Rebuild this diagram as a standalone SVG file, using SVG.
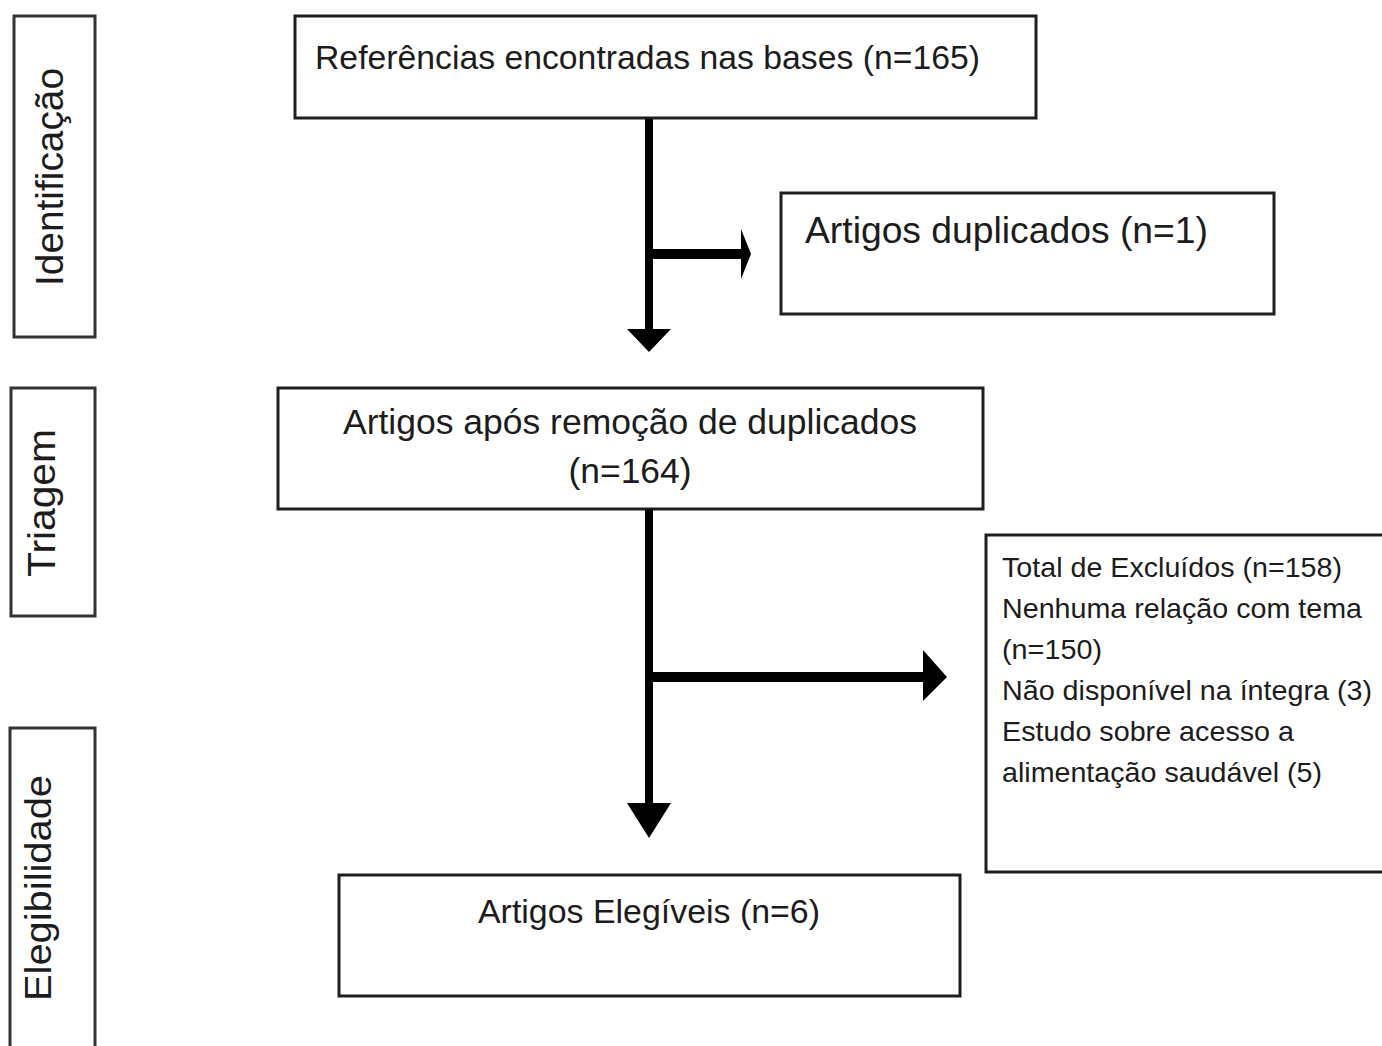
<svg xmlns="http://www.w3.org/2000/svg" width="1382" height="1046" viewBox="0 0 1382 1046">
<style>
.box{fill:#fff;stroke:#1e1e1e;stroke-width:3}
.lbl{fill:#fff;stroke:#333;stroke-width:3}
text{font-family:"Liberation Sans",Arial,sans-serif;fill:#1c1c1c}
.conn{stroke:#000;fill:none}
.head{fill:#000}
</style>
<rect width="1382" height="1046" fill="#fff"/>
<g id="stage-identificacao">
<rect class="lbl" x="14" y="16" width="81" height="321"/>
<text transform="translate(63,177) rotate(-90)" text-anchor="middle" font-size="38" textLength="218" lengthAdjust="spacingAndGlyphs">Identificação</text>
</g>
<g id="stage-triagem">
<rect class="lbl" x="11" y="388" width="84" height="228"/>
<text transform="translate(55,503) rotate(-90)" text-anchor="middle" font-size="38" textLength="148" lengthAdjust="spacingAndGlyphs">Triagem</text>
</g>
<g id="stage-elegibilidade">
<rect class="lbl" x="10" y="728" width="85" height="330"/>
<text transform="translate(51,888) rotate(-90)" text-anchor="middle" font-size="36" textLength="226" lengthAdjust="spacingAndGlyphs">Elegibilidade</text>
</g>
<g id="node-referencias">
<rect class="box" x="295" y="16" width="741" height="102"/>
<text x="315" y="69" font-size="33.5" textLength="665" lengthAdjust="spacingAndGlyphs">Referências encontradas nas bases (n=165)</text>
</g>
<g id="node-duplicados">
<rect class="box" x="781" y="193" width="493" height="121"/>
<text x="805" y="243" font-size="37" textLength="403" lengthAdjust="spacingAndGlyphs">Artigos duplicados (n=1)</text>
</g>
<g id="node-apos-remocao">
<rect class="box" x="278" y="388" width="705" height="121"/>
<text x="630" y="434" font-size="35.5" text-anchor="middle" textLength="574" lengthAdjust="spacingAndGlyphs">Artigos após remoção de duplicados</text>
<text x="630" y="483" font-size="35.5" text-anchor="middle" textLength="123" lengthAdjust="spacingAndGlyphs">(n=164)</text>
</g>
<g id="node-excluidos">
<rect class="box" x="986" y="535" width="410" height="337"/>
<text font-size="28.5">
<tspan x="1002" y="577" textLength="340" lengthAdjust="spacingAndGlyphs">Total de Excluídos (n=158)</tspan>
<tspan x="1002" y="618" textLength="360" lengthAdjust="spacingAndGlyphs">Nenhuma relação com tema</tspan>
<tspan x="1002" y="659" textLength="100" lengthAdjust="spacingAndGlyphs">(n=150)</tspan>
<tspan x="1002" y="700" textLength="370" lengthAdjust="spacingAndGlyphs">Não disponível na íntegra (3)</tspan>
<tspan x="1002" y="741" textLength="292" lengthAdjust="spacingAndGlyphs">Estudo sobre acesso a</tspan>
<tspan x="1002" y="782" textLength="320" lengthAdjust="spacingAndGlyphs">alimentação saudável (5)</tspan>
</text>
</g>
<g id="node-elegiveis">
<rect class="box" x="339" y="875" width="621" height="121"/>
<text x="478" y="923" font-size="34" textLength="342" lengthAdjust="spacingAndGlyphs">Artigos Elegíveis (n=6)</text>
</g>
<g id="connectors">
<line class="conn" x1="649" y1="119" x2="649" y2="332" stroke-width="8"/>
<polygon class="head" points="627,329 671,329 649,352"/>
<line class="conn" x1="649" y1="254" x2="744" y2="254" stroke-width="10"/>
<polygon class="head" points="741,229 751,254 741,279"/>
<line class="conn" x1="649" y1="510" x2="649" y2="806" stroke-width="8"/>
<polygon class="head" points="627,803 671,803 649,838"/>
<line class="conn" x1="649" y1="677" x2="925" y2="677" stroke-width="10"/>
<polygon class="head" points="923,650 947,677 923,701"/>
</g>
</svg>
